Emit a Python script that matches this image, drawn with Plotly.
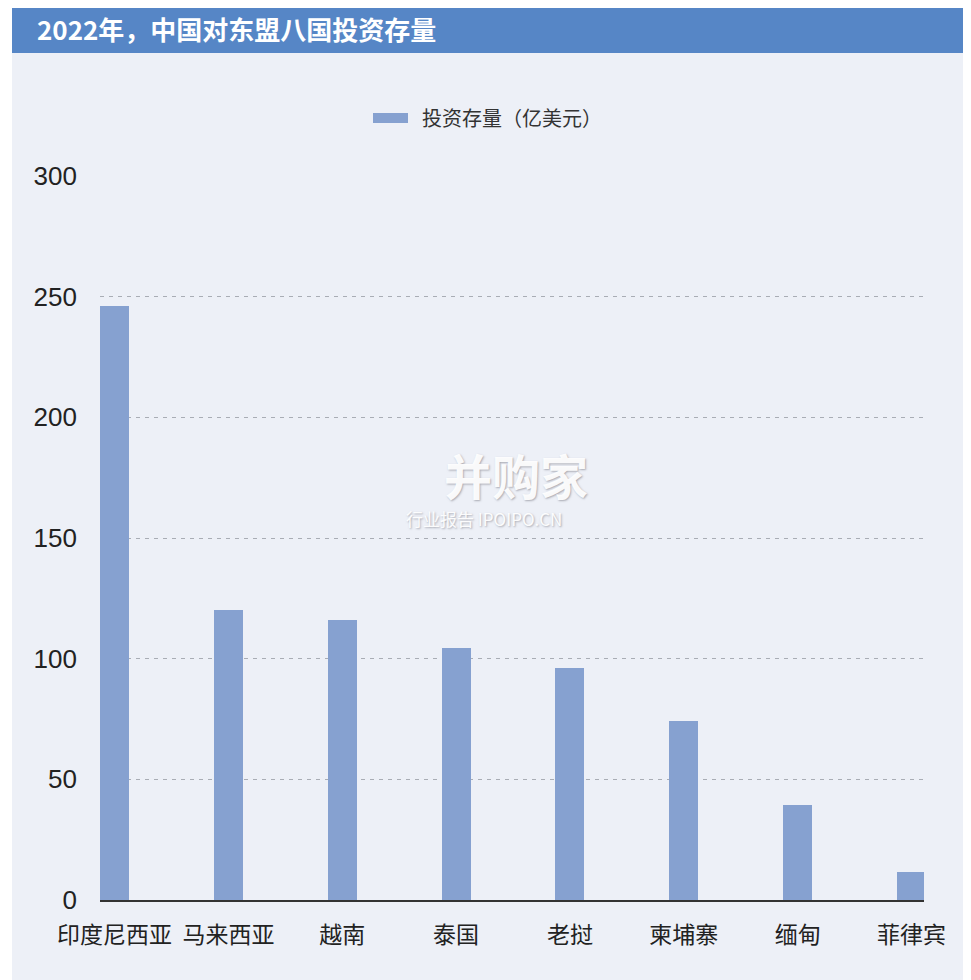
import plotly.graph_objects as go

categories = ["印度尼西亚", "马来西亚", "越南", "泰国", "老挝", "柬埔寨", "缅甸", "菲律宾"]
values = [246, 120, 116, 104.5, 96, 74, 39.5, 11.5]
series_name = "投资存量（亿美元）"
y_ticks = [0, 50, 100, 150, 200, 250, 300]
title_text = "2022年，中国对东盟八国投资存量"

# page has an 8px body margin; compensate so the picture lines up with the window
OFF = 8
W, H = 971 - OFF, 980 - OFF
BAR = "#86a1d0"
BG = "#edf0f7"
BLUE = "#5686c6"

def px(x):
    return (x - OFF) / W

def py(y):
    return 1 - (y - OFF) / H

fig = go.Figure()
fig.add_trace(go.Bar(
    x=categories, y=values, name=series_name,
    marker=dict(color=BAR, line=dict(width=0)),
    width=0.255, showlegend=False,
))

shapes = [
    dict(type="rect", xref="paper", yref="paper", x0=px(12), x1=1.0, y0=0, y1=py(53),
         fillcolor=BG, line=dict(width=0), layer="below"),
    dict(type="rect", xref="paper", yref="paper", x0=px(12), x1=1.0, y0=py(53), y1=1.0,
         fillcolor=BLUE, line=dict(width=0), layer="below"),
    dict(type="rect", xref="paper", yref="paper", x0=px(373), x1=px(408), y0=py(123), y1=py(113),
         fillcolor=BAR, line=dict(width=0)),
]

annotations = [
    dict(text=title_text, xref="paper", yref="paper", x=px(35), y=py(29),
         xanchor="left", yanchor="middle", showarrow=False,
         font=dict(family="Noto Sans CJK SC", size=26, color="white", weight="bold")),
    dict(text=series_name, xref="paper", yref="paper", x=px(420), y=py(118),
         xanchor="left", yanchor="middle", showarrow=False,
         font=dict(family="Noto Sans CJK SC", size=20, color="#333333")),
    dict(text="并购家", xref="paper", yref="paper", x=px(516), y=py(474),
         xanchor="center", yanchor="middle", showarrow=False,
         font=dict(family="Noto Sans CJK SC", size=48, color="rgba(255,255,255,0.95)", weight="bold",
                   shadow="1px 1px 2px rgba(120,120,130,0.6)")),
    dict(text="行业报告 IPOIPO.CN", xref="paper", yref="paper", x=px(484), y=py(518),
         xanchor="center", yanchor="middle", showarrow=False,
         font=dict(family="Noto Sans CJK SC", size=17, color="rgba(255,255,255,0.95)",
                   shadow="1px 1px 2px rgba(120,120,130,0.6)")),
]

fig.update_layout(
    width=W, height=H,
    margin=dict(l=0, r=0, t=0, b=0),
    paper_bgcolor="white",
    plot_bgcolor=BG,
    shapes=shapes,
    annotations=annotations,
    bargap=0,
    xaxis=dict(
        domain=[px(100), px(924)],
        range=[-0.128, 7.11],
        type="category",
        showgrid=False, zeroline=False,
        showline=True, linecolor="#333333", linewidth=1.5,
        ticks="", ticklabelstandoff=14,
        tickfont=dict(family="Noto Sans CJK SC", size=23, color="#222222"),
        automargin=False,
    ),
    yaxis=dict(
        domain=[py(900), py(176)],
        range=[0, 300],
        tickvals=y_ticks,
        showgrid=True, gridcolor="#a9adb5", gridwidth=1, griddash="4px,5px",
        zeroline=False, showline=False,
        ticks="", ticklabelstandoff=22,
        tickfont=dict(family="Liberation Sans", size=26, color="#222222"),
        automargin=False,
    ),
)

fig.write_html("out.html")
